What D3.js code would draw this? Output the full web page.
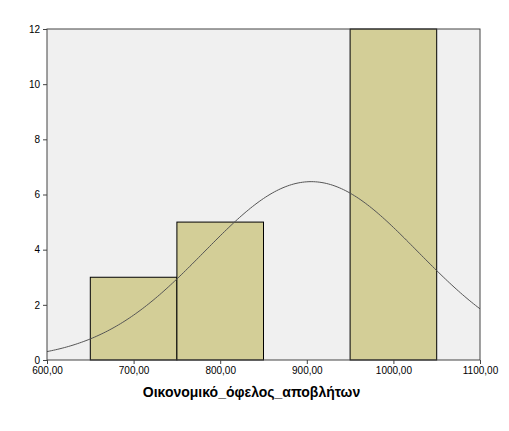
<!DOCTYPE html>
<html><head><meta charset="utf-8">
<script src="https://cdn.jsdelivr.net/npm/d3@7"></script>
<style>body{margin:0;background:#fff}</style></head>
<body><svg id="c" width="509" height="431"></svg>
<script>
const binStarts=[650,750,950];
const binEnds=[750,850,1050];
const counts=[3,5,12];
const xTicks=[600,700,800,900,1000,1100];
const yTicks=[0,2,4,6,8,10,12];
const fitMean=905, fitSd=123.4, fitN=20, binWidth=100;
const xLabel="Οικονομικό_όφελος_αποβλήτων";

const svg=d3.select("#c");
const L=47,R=480,T=29,B=360;
const x=d3.scaleLinear().domain([600,1100]).range([L,R]);
const y=d3.scaleLinear().domain([0,12]).range([B,T]);
svg.append("rect").attr("x",L).attr("y",T).attr("width",R-L).attr("height",B-T).attr("fill","#f0f0f0");
svg.selectAll(".bar").data(counts).enter().append("rect")
 .attr("x",(d,i)=>x(binStarts[i])).attr("width",(d,i)=>x(binEnds[i])-x(binStarts[i]))
 .attr("y",d=>y(d)).attr("height",d=>B-y(d))
 .attr("fill","#d3ce97").attr("stroke","#000").attr("stroke-width",1);
const xs=d3.range(600,1100.1,2.5);
const dens=v=>fitN*binWidth/(fitSd*Math.sqrt(2*Math.PI))*Math.exp(-0.5*((v-fitMean)/fitSd)**2);
svg.append("path").datum(xs).attr("fill","none").attr("stroke","#555").attr("stroke-width",1)
 .attr("d",d3.line().x(d=>x(d)).y(d=>y(dens(d))));
svg.append("rect").attr("x",L).attr("y",T).attr("width",R-L).attr("height",B-T).attr("fill","none").attr("stroke","#444");
const fmt=v=>v.toFixed(2).replace(".",",");
const xa=svg.append("g").attr("transform",`translate(0,${B})`).call(d3.axisBottom(x).tickValues(xTicks).tickFormat(fmt).tickSize(4));
const ya=svg.append("g").attr("transform",`translate(${L},0)`).call(d3.axisLeft(y).tickValues(yTicks).tickSize(4));
[xa,ya].forEach(a=>{a.select(".domain").remove();a.selectAll("text").attr("font-family","Arial, Liberation Sans").attr("font-size",10).attr("fill","#000");a.selectAll("line").attr("stroke","#444");});
svg.append("text").attr("x",(L+R)/2-12).attr("y",397).attr("text-anchor","middle")
 .attr("font-family","Arial, Liberation Sans").attr("font-weight","bold").attr("font-size",14).text(xLabel);
</script></body></html>
